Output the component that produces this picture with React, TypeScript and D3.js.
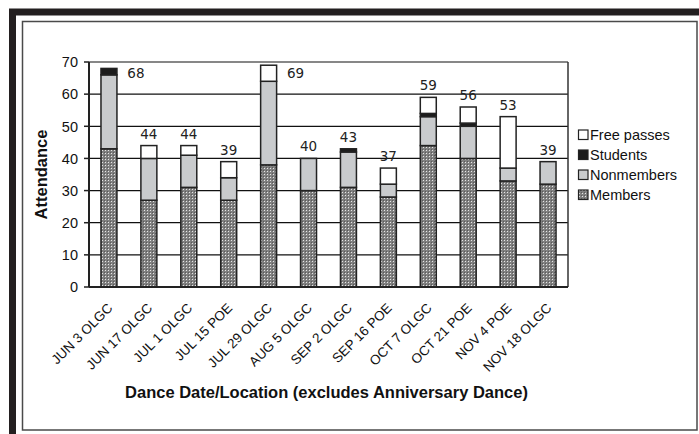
import { useMemo } from "react";
import * as d3 from "d3";

const categories = [
  "JUN 3 OLGC",
  "JUN 17 OLGC",
  "JUL 1 OLGC",
  "JUL 15 POE",
  "JUL 29 OLGC",
  "AUG 5 OLGC",
  "SEP 2 OLGC",
  "SEP 16 POE",
  "OCT 7 OLGC",
  "OCT 21 POE",
  "NOV 4 POE",
  "NOV 18 OLGC",
];

const members = [43, 27, 31, 27, 38, 30, 31, 28, 44, 40, 33, 32];
const nonmembers = [23, 13, 10, 7, 26, 10, 11, 4, 9, 10, 4, 7];
const students = [2, 0, 0, 0, 0, 0, 1, 0, 1, 1, 0, 0];
const freePasses = [0, 4, 3, 5, 5, 0, 0, 5, 5, 5, 16, 0];

const yTicks = [0, 10, 20, 30, 40, 50, 60, 70];

const seriesNames = ["Members", "Nonmembers", "Students", "Free passes"];
const seriesFills = ["url(#memberPattern)", "#c9cbcd", "#1c1c1c", "#ffffff"];

const W = 699;
const H = 434;
const margin = { left: 89, right: 131, top: 62, bottom: 147 };
const FONT = "'Liberation Sans', Arial, sans-serif";
const LABEL_FONT = "'DejaVu Sans', Verdana, sans-serif";

export default function App() {
  const plotW = W - margin.left - margin.right;
  const plotH = H - margin.top - margin.bottom;

  const x = d3.scaleBand().domain(categories).range([0, plotW]).paddingInner(0.6).paddingOuter(0.3);
  const y = d3.scaleLinear().domain([0, 70]).range([plotH, 0]);

  const stacked = useMemo(() => {
    const rows = categories.map((c, i) => ({
      cat: c,
      Members: members[i],
      Nonmembers: nonmembers[i],
      Students: students[i],
      "Free passes": freePasses[i],
    }));
    return d3.stack<any>().keys(seriesNames)(rows);
  }, []);

  const totals = categories.map((_, i) => members[i] + nonmembers[i] + students[i] + freePasses[i]);

  return (
    <svg
      width={W}
      height={H}
      style={{ position: "absolute", left: 0, top: 0, background: "#fff" }}
    >
      <defs>
        <pattern id="memberPattern" width="3" height="3" patternUnits="userSpaceOnUse">
          <rect width="3" height="3" fill="#808080" />
          <rect x="1" y="1" width="1" height="1" fill="#e6e6e6" />
          <rect x="0" y="0" width="1" height="1" fill="#5a5a5a" />
        </pattern>
      </defs>

      {/* outer frame */}
      <rect x={12.5} y={12} width={W} height={H} fill="none" stroke="#231f20" strokeWidth={7} />
      <rect x={22.5} y={21.5} width={674.5} height={408.5} fill="none" stroke="#4a4a4a" strokeWidth={1.5} />

      <g transform={`translate(${margin.left},${margin.top})`}>
        {/* gridlines */}
        {yTicks.slice(1).map((t) => (
          <line key={t} x1={0} x2={plotW} y1={y(t)} y2={y(t)} stroke="#111" strokeWidth={1.2} />
        ))}
        <line x1={plotW} x2={plotW} y1={0} y2={plotH} stroke="#333" strokeWidth={1.5} />

        {/* bars */}
        {stacked.map((s, si) => (
          <g key={s.key}>
            {s.map((d, i) =>
              d[1] - d[0] > 0 ? (
                <rect
                  key={i}
                  x={x(categories[i])!}
                  y={y(d[1])}
                  width={x.bandwidth()}
                  height={y(d[0]) - y(d[1])}
                  fill={seriesFills[si]}
                  stroke="#222"
                  strokeWidth={1.5}
                />
              ) : null
            )}
          </g>
        ))}

        {/* total labels */}
        {totals.map((t, i) => {
          const cx = x(categories[i])! + x.bandwidth() / 2;
          const right = t > 65;
          return (
            <text
              key={i}
              x={right ? cx + 27 : cx}
              y={right ? y(70) + 16 : y(t) - 7}
              textAnchor="middle"
              fontFamily={LABEL_FONT}
              fontSize={13.5}
              fill="#222"
            >
              {t}
            </text>
          );
        })}

        {/* axes */}
        <line x1={0} x2={plotW} y1={plotH} y2={plotH} stroke="#222" strokeWidth={2} />
        <line x1={0} x2={0} y1={0} y2={plotH} stroke="#222" strokeWidth={2} />
        {yTicks.map((t) => (
          <g key={t} transform={`translate(0,${y(t)})`}>
            <line x1={-5} x2={0} stroke="#222" strokeWidth={1.5} />
            <text x={-11} dy="0.36em" textAnchor="end" fontFamily={FONT} fontSize={14.5} fill="#111">
              {t}
            </text>
          </g>
        ))}
        {categories.map((c) => {
          const cx = x(c)! + x.bandwidth() / 2;
          return (
            <text
              key={c}
              transform={`translate(${cx + 1},${plotH + 18.5}) rotate(-45)`}
              textAnchor="end"
              dy="0.35em"
              fontFamily={FONT}
              fontSize={13.5}
              fill="#111"
            >
              {c}
            </text>
          );
        })}

        <text
          transform={`translate(-42,${plotH / 2}) rotate(-90)`}
          textAnchor="middle"
          fontFamily={FONT}
          fontWeight="bold"
          fontSize={16.5}
          fill="#111"
        >
          Attendance
        </text>
        <text
          x={plotW / 2 - 2}
          y={plotH + 111}
          textAnchor="middle"
          fontFamily={FONT}
          fontWeight="bold"
          fontSize={16.5}
          fill="#111"
        >
          Dance Date/Location (excludes Anniversary Dance)
        </text>
      </g>

      {/* legend */}
      <g transform="translate(578,135)">
        {[...seriesNames].reverse().map((name, i) => {
          const si = seriesNames.indexOf(name);
          return (
            <g key={name} transform={`translate(0,${i * 20})`}>
              <rect x={0.5} y={-5} width={9.5} height={9.5} fill={seriesFills[si]} stroke="#222" strokeWidth={1.2} />
              <text x={12} dy="0.36em" fontFamily={FONT} fontSize={14.5} fill="#111">
                {name}
              </text>
            </g>
          );
        })}
      </g>
    </svg>
  );
}
